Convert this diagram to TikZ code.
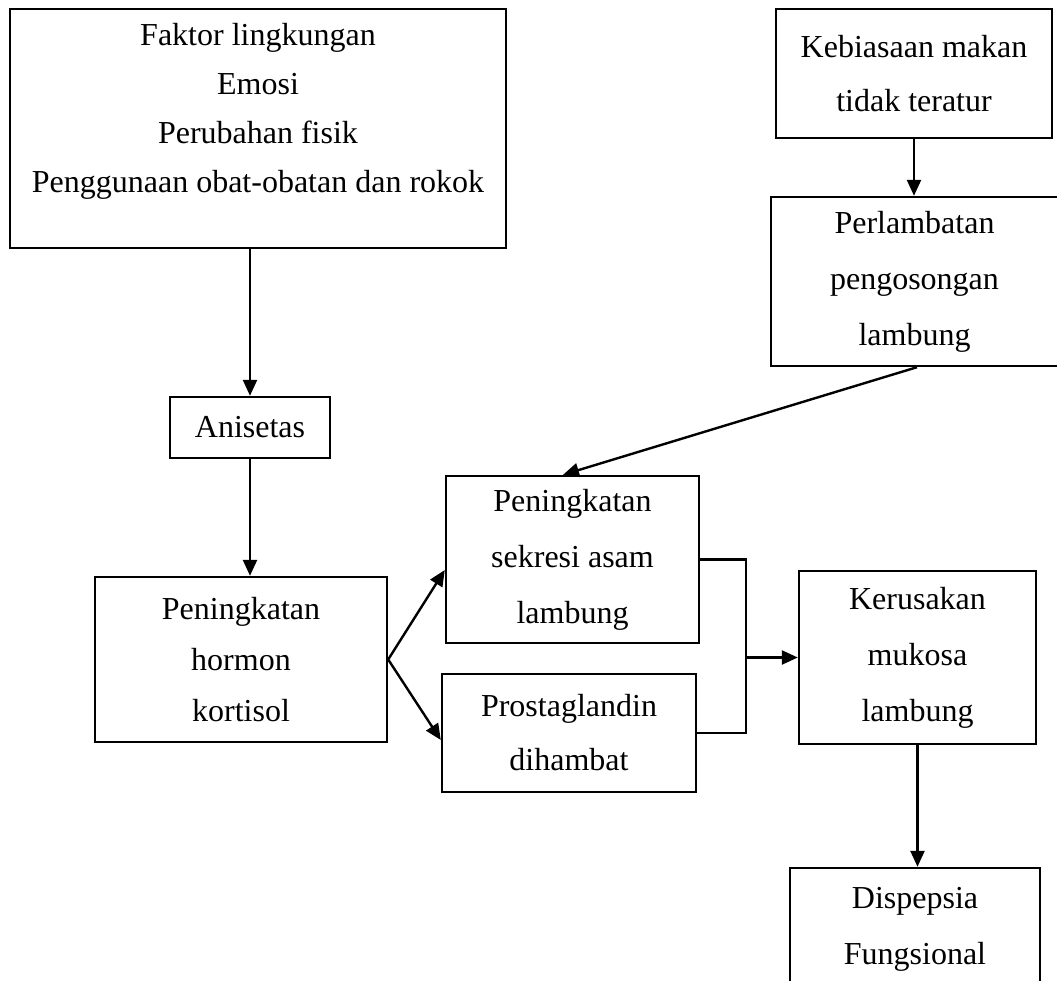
\documentclass[tikz,border=0pt]{standalone}
\usepackage{fontspec}
\setmainfont{Liberation Serif}
\usetikzlibrary{arrows.meta, positioning}
\tikzset {
  box/.style = {draw, line width=1.2pt, rectangle, align=center, inner sep=0pt, font=\fontsize{16}{27}\selectfont},
  txt/.style = {align=center, inner sep=0pt, font=\fontsize{16}{24.5}\selectfont},
  line/.style = {-{Triangle[length=8pt, width=7pt]}, line width=1.2pt, color=black},
  plain/.style = {line width=1.2pt, color=black}
}

\begin{document}
\begin{tikzpicture}[x=0.5pt, y=-0.5pt]
    \useasboundingbox (0,0) rectangle (1057,981);

    % left column
    \node[box, minimum width=248pt, minimum height=119.5pt] (faktor) at (258,128.5) {};
    \node[txt] (faktortext) at (258,111.5) {Faktor lingkungan\\Emosi\\Perubahan fisik\\Penggunaan obat-obatan dan rokok};
    \node[box, minimum width=80pt, minimum height=30.5pt] (anisetas) at (250,427.5) {Anisetas};
    \node[box, minimum width=146pt, minimum height=82.5pt, font=\fontsize{16}{25.5}\selectfont] (hormon) at (241,659.5) {Peningkatan\\hormon\\kortisol};

    % middle column
    \node[box, minimum width=126.5pt, minimum height=83.5pt, font=\fontsize{16}{28}\selectfont] (sekresi) at (572.5,559.5) {Peningkatan\\sekresi asam\\lambung};
    \node[box, minimum width=127pt, minimum height=59pt] (prosta) at (569,733) {Prostaglandin\\dihambat};

    % right column
    \node[box, minimum width=138pt, minimum height=64.5pt] (kebiasaan) at (914,73.5) {Kebiasaan makan\\tidak teratur};
    \node[box, minimum width=143.5pt, minimum height=84.5pt, font=\fontsize{16}{28}\selectfont] (perlambatan) at (914.5,281.5) {Perlambatan\\pengosongan\\lambung};
    \node[box, minimum width=118.5pt, minimum height=86.5pt, font=\fontsize{16}{28}\selectfont] (kerusakan) at (917.5,657.5) {Kerusakan\\mukosa\\lambung};
    \node[box, minimum width=125pt, minimum height=61pt, font=\fontsize{16}{28}\selectfont] (dispepsia) at (915,929) {Dispepsia\\Fungsional};

    \draw[line] (faktor.south -| anisetas.north) -- (anisetas.north);
    \draw[line] (anisetas.south) -- (anisetas.south |- hormon.north);
    \draw[line] (kebiasaan.south) -- (kebiasaan.south |- perlambatan.north);
    \draw[line] ([xshift=1.25pt]perlambatan.south) -- ([xshift=-4.75pt]sekresi.north);
    \draw[line] (hormon.east) -- ([yshift=-5.25pt]sekresi.west);
    \draw[line] (hormon.east) -- ([yshift=-3.5pt]prosta.west);

    % join of the two branches
    \coordinate (jtop) at ([xshift=23pt]sekresi.east);
    \draw[plain] (sekresi.east) -- (jtop) -- (jtop |- prosta.east) -- (prosta.east);
    \draw[line] (jtop |- kerusakan.west) -- (kerusakan.west);
    \draw[line] (kerusakan.south) -- (kerusakan.south |- dispepsia.north);

\end{tikzpicture}
\end{document}
